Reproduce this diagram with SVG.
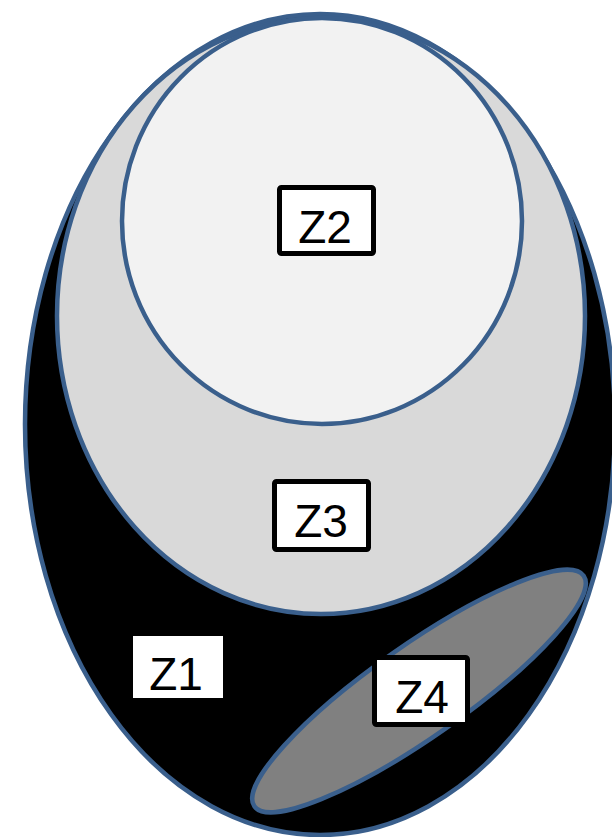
<svg xmlns="http://www.w3.org/2000/svg" width="612" height="837" viewBox="0 0 612 837">
<style>
.zone{stroke:#3A5F8C;stroke-width:4.5}
.box{fill:#FFFFFF;stroke:#000000;stroke-width:5}
.lbl{font-family:"Liberation Sans",Arial,sans-serif;font-size:46px;fill:#000000;text-anchor:middle}
</style>
<rect width="612" height="837" fill="#FFFFFF"/>
<g id="Z1">
<ellipse class="zone" cx="320" cy="424.5" rx="295" ry="410.5" fill="#000000"/>
<rect x="133" y="636" width="90" height="62" fill="#FFFFFF"/>
<text class="lbl" x="176" y="690">Z1</text>
</g>
<g id="Z3">
<ellipse class="zone" cx="321" cy="316" rx="264" ry="298" fill="#D9D9D9"/>
<rect class="box" x="274.5" y="481.5" width="94" height="68" rx="2"/>
<text class="lbl" x="321" y="537">Z3</text>
</g>
<g id="Z2">
<ellipse class="zone" cx="322" cy="221" rx="200" ry="203" fill="#F2F2F2"/>
<rect class="box" x="279.5" y="187.5" width="94" height="66" rx="2"/>
<text class="lbl" x="325" y="243">Z2</text>
</g>
<g id="Z4">
<ellipse class="zone" cx="419" cy="691" rx="201" ry="46" fill="#808080" transform="rotate(-35 419 691)"/>
<rect class="box" x="374.5" y="657.5" width="93" height="67" rx="2"/>
<text class="lbl" x="422" y="713">Z4</text>
</g>
<g id="connectors"></g>
</svg>
